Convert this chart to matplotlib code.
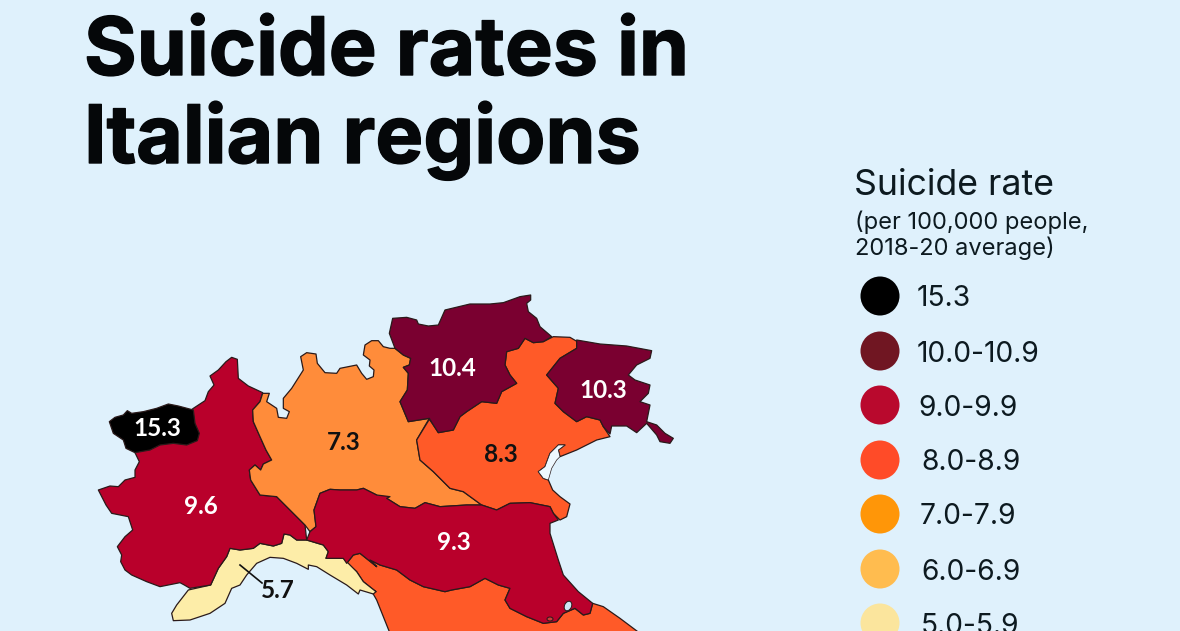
import matplotlib
matplotlib.use('Agg')
import matplotlib.pyplot as plt
import matplotlib.patheffects as pe
from matplotlib.patches import Polygon, Circle, Ellipse

BG = '#DFF1FC'
EDGE = '#2a1a1a'

legend_labels = ['15.3', '10.0-10.9', '9.0-9.9', '8.0-8.9', '7.0-7.9', '6.0-6.9', '5.0-5.9']
legend_colors = ['#000000', '#701622', '#B9092D', '#FF4B28', '#FF9608', '#FFBC4F', '#FBE59D']
legend_text_x = [917, 917, 918, 921, 920, 921, 921]
legend_y = [296, 351, 405, 460, 514, 569, 623]

region_names = ['Aosta', 'Piedmont', 'Liguria', 'Lombardy', 'Trentino', 'Friuli', 'Veneto', 'Emilia', 'Tuscany']
region_values = ['15.3', '9.6', '5.7', '7.3', '10.4', '10.3', '8.3', '9.3', None]
region_colors = ['#000000', '#B9002B', '#FDEDA8', '#FF8C3A', '#7A0030', '#7A0030', '#FF5A28', '#B9002B', '#FF5A28']
label_x = [157, 201, 278, 344, 452, 603, 501, 454]
label_y = [427, 504, 589, 441, 366, 388, 453, 541]
label_colors = ['white', 'white', '#111111', '#111111', 'white', 'white', '#111111', 'white']


def z1(pts):
    return [(90 + x / 3, 280 + y / 3) for x, y in pts]


def z2(pts):
    return [(370 + x / 3, 280 + y / 3) for x, y in pts]


# outlines
aosta = z1([(58, 425), (75, 412), (100, 405), (112, 392), (125, 400), (160, 395), (200, 385), (235, 372), (265, 378),
            (310, 390), (315, 430), (328, 460), (322, 482), (290, 495), (250, 490), (210, 495), (180, 510), (135, 518),
            (108, 505), (100, 480), (70, 460)])

piedmont = z1([(425, 232), (442, 238), (445, 295), (475, 318), (518, 338), (510, 365), (488, 390), (490, 425), (510, 470),
               (528, 510), (545, 540), (520, 552), (512, 570), (495, 555), (478, 570), (482, 600), (510, 645), (560, 650),
               (590, 680), (620, 710), (645, 735), (650, 780), (620, 780), (600, 765), (582, 762), (575, 790), (550, 798),
               (510, 790), (490, 805), (450, 810), (420, 805), (410, 830), (385, 865), (362, 915), (300, 925), (283, 915),
               (270, 908), (210, 920), (170, 905), (125, 885), (105, 870), (92, 845), (95, 825), (82, 800), (105, 770),
               (128, 750), (115, 710), (65, 700), (48, 675), (25, 630), (60, 618), (85, 620), (105, 600), (135, 592),
               (135, 570), (148, 545), (135, 518), (310, 385), (345, 362), (355, 335), (372, 315), (360, 288), (385, 270),
               (408, 245)])

liguria = z1([(245, 1000), (260, 975), (295, 930), (362, 915), (385, 865), (410, 830), (420, 805), (450, 810), (490, 805),
              (510, 790), (550, 798), (575, 790), (582, 762), (600, 765), (620, 780), (650, 780), (700, 795), (715, 815),
              (708, 835), (760, 835), (775, 850), (800, 875), (820, 905), (858, 935), (850, 942), (810, 930), (805, 942),
              (770, 915), (720, 885), (680, 860), (655, 855), (655, 868), (620, 850), (580, 835), (540, 832), (500, 850),
              (470, 885), (450, 915), (425, 925), (405, 970), (360, 1000), (300, 1020), (250, 1022)])

lombardy = z1([(518, 340), (538, 340), (530, 365), (560, 385), (565, 412), (590, 415), (598, 395), (580, 385), (580, 355),
               (605, 325), (640, 270), (632, 230), (650, 218), (678, 222), (682, 250), (705, 278), (740, 280), (750, 265),
               (800, 255), (815, 280), (830, 298), (850, 290), (852, 270), (838, 258), (840, 240), (820, 225), (825, 195),
               (845, 182), (865, 182), (880, 200), (900, 205)]) \
    + z2([(75, 205), (100, 225), (122, 235), (118, 255), (100, 262), (115, 280), (112, 330), (90, 365), (115, 425),
          (178, 415), (140, 480), (150, 540), (190, 575), (240, 625), (280, 635), (335, 675), (290, 675), (210, 680),
          (165, 668), (135, 685), (90, 680), (50, 655), (0, 645)]) \
    + z1([(860, 645), (820, 625), (800, 630), (750, 630), (720, 628), (690, 640), (672, 690), (678, 740), (660, 755),
          (645, 735), (620, 710), (590, 680), (560, 650), (510, 645), (482, 600), (478, 570), (495, 555), (512, 570),
          (520, 552), (545, 540), (528, 510), (510, 470), (490, 425), (488, 390), (510, 365)])

trentino = z2([(68, 115), (110, 112), (140, 120), (145, 132), (175, 138), (205, 135), (225, 90), (300, 72), (360, 72),
               (400, 68), (450, 50), (482, 45), (482, 60), (470, 70), (475, 95), (500, 115), (510, 140), (545, 170),
               (520, 185), (490, 188), (465, 175), (445, 205), (410, 215), (405, 255), (420, 285), (440, 310), (395, 335),
               (380, 370), (335, 365), (290, 395), (270, 410), (250, 450), (205, 458), (190, 435), (178, 415), (115, 425),
               (90, 365), (112, 330), (115, 280), (100, 262), (118, 255), (122, 235), (100, 225), (75, 205), (58, 160)])

friuli = z2([(620, 180), (690, 192), (770, 198), (845, 212), (840, 235), (800, 255), (775, 285), (795, 300), (840, 315),
             (835, 340), (810, 365), (840, 375), (830, 425), (860, 435), (885, 460), (910, 475), (900, 490), (870, 485),
             (860, 465), (830, 430), (800, 458), (770, 438), (725, 438), (720, 462), (700, 440), (690, 420), (650, 410),
             (620, 425), (580, 395), (555, 370), (565, 325), (530, 285), (570, 235), (620, 205)])

veneto = z2([(178, 418), (190, 435), (205, 458), (250, 450), (270, 410), (290, 395), (335, 365), (380, 370), (395, 335),
             (440, 310), (420, 285), (405, 255), (410, 215), (445, 205), (465, 175), (490, 188), (520, 185), (550, 170),
             (600, 172), (622, 185), (620, 205), (570, 235), (530, 285), (565, 325), (555, 370), (580, 395), (620, 425),
             (650, 410), (690, 420), (700, 440), (720, 470), (680, 480), (620, 510), (570, 530), (565, 510), (585, 495),
             (565, 495), (540, 520), (525, 560), (505, 575), (520, 595), (535, 600), (548, 630), (570, 650), (600, 672),
             (590, 710), (570, 720), (550, 700), (540, 680), (480, 668), (420, 670), (380, 690), (335, 675), (280, 635),
             (240, 625), (190, 575), (150, 540), (140, 480)])

emilia = z1([(650, 780), (660, 755), (678, 740), (672, 690), (690, 640), (720, 628), (750, 630), (800, 630), (820, 625),
             (860, 645), (900, 650)]) \
    + z2([(50, 655), (90, 680), (135, 685), (165, 668), (210, 680), (290, 675), (335, 675), (380, 690), (420, 670),
          (480, 668), (540, 680), (550, 700), (565, 720), (540, 730), (540, 760), (565, 840), (580, 885), (625, 935),
          (668, 970), (660, 1000), (640, 1005), (615, 985), (580, 1000), (560, 1025), (520, 1030), (470, 1010),
          (420, 985), (405, 960), (420, 925), (385, 915), (345, 895), (300, 920), (245, 930), (225, 935), (160, 920),
          (120, 900), (80, 870), (30, 855), (0, 840)]) \
    + z1([(860, 860), (810, 820), (790, 825), (770, 850), (760, 835), (708, 835), (715, 815), (700, 795)])

tuscany = z1([(770, 850), (790, 825), (810, 820), (860, 860)]) \
    + z2([(0, 840), (30, 855), (80, 870), (120, 900), (160, 920), (225, 935), (245, 930), (300, 920), (345, 895),
          (385, 915), (420, 925), (405, 960), (420, 985), (470, 1010), (520, 1030), (560, 1025), (580, 1000), (615, 985),
          (640, 1005), (660, 1000), (668, 970), (700, 980), (750, 1015), (810, 1060), (60, 1060), (20, 960), (0, 925)]) \
    + z1([(858, 935), (820, 905), (800, 875)])

# pale water in the Venice lagoon
lagoon = z2([(570, 530), (565, 510), (585, 495), (565, 495), (540, 520), (525, 560), (505, 575), (520, 595), (535, 600),
             (545, 565), (560, 540)])

outlines = [aosta, piedmont, liguria, lombardy, trentino, friuli, veneto, emilia, tuscany]
draw_order = [8, 2, 1, 3, 6, 4, 5, 7, 0]


def main():
    fig = plt.figure(figsize=(11.8, 6.31), dpi=100, facecolor=BG)
    ax = fig.add_axes([0, 0, 1, 1])
    ax.set_xlim(0, 1180)
    ax.set_ylim(631, 0)
    ax.axis('off')

    for i in draw_order:
        ax.add_patch(Polygon(outlines[i], closed=True, facecolor=region_colors[i], edgecolor=EDGE,
                             linewidth=0.9, joinstyle='round'))

    ax.add_patch(Polygon(lagoon, closed=True, facecolor='#EEF8FE', edgecolor=EDGE, linewidth=0.5))
    ax.add_patch(Ellipse((568, 606), 7, 10, angle=25, facecolor='#CFE6F5', edgecolor=EDGE, linewidth=0.7))
    ax.add_patch(Ellipse((550, 619), 6, 4, facecolor='#C8403A', edgecolor=EDGE, linewidth=0.7))

    for name, val, x, y, c in zip(region_names, region_values, label_x, label_y, label_colors):
        ax.text(x, y, val, fontsize=17.5, family='Lato', weight='bold', color=c, ha='center', va='center_baseline')
    ax.plot([240, 262], [565, 583], color='#111111', linewidth=1.2)

    stroke = [pe.withStroke(linewidth=1.0, foreground='#050709')]
    ax.text(84, 75, 'Suicide rates in', fontsize=58, family='Inter', weight='bold', color='#050709',
            va='baseline', path_effects=stroke)
    ax.text(84, 163, 'Italian regions', fontsize=58, family='Inter', weight='bold', color='#050709',
            va='baseline', path_effects=stroke)

    ax.text(854, 195, 'Suicide rate', fontsize=25.7, family='Inter', color='#0d1a20', va='baseline')
    ax.text(855, 229, '(per 100,000 people,', fontsize=17, family='Inter', color='#0d1a20', va='baseline')
    ax.text(855, 255, '2018-20 average)', fontsize=17, family='Inter', color='#0d1a20', va='baseline')

    for lab, col, tx, y in zip(legend_labels, legend_colors, legend_text_x, legend_y):
        ax.add_patch(Circle((880, y), 19.5, facecolor=col, edgecolor='none'))
        ax.text(tx, y, lab, fontsize=20.3, family='Inter', color='#0d1a20', va='center_baseline')

    fig.savefig('out.png', dpi=100, facecolor=BG)


if __name__ == "__main__":
    main()
